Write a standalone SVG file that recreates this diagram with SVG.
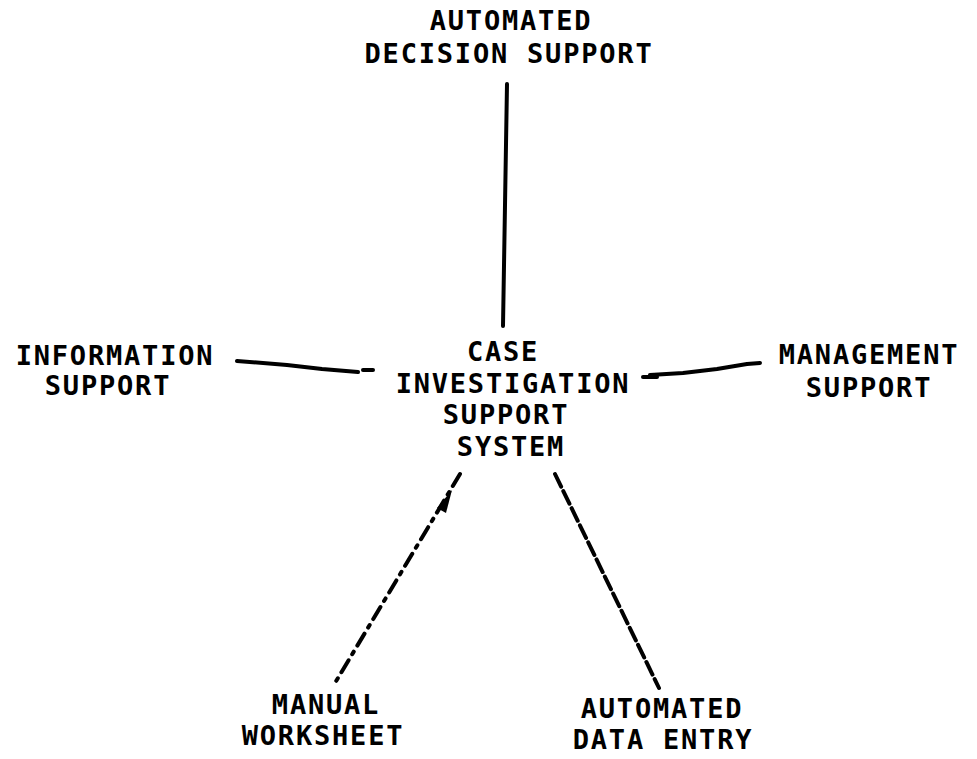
<svg xmlns="http://www.w3.org/2000/svg" width="977" height="759" viewBox="0 0 977 759">
<style>
text{font-family:"DejaVu Sans Mono","Liberation Mono",monospace;font-weight:bold;font-size:27px;letter-spacing:1.8px;fill:#000;text-anchor:middle}
.ln{fill:none;stroke:#000;stroke-width:4;stroke-linecap:round;stroke-linejoin:round}
.dd{stroke-dasharray:14 7 3 7}
.da{stroke-dasharray:14 5}
</style>
<rect width="977" height="759" fill="#fff"/>
<g id="connectors">
<path class="ln" d="M507,84 L503,326"/>
<path class="ln" d="M237,361 L287,365 L322,369 L358,372"/>
<path class="ln" d="M363,370 L373,370"/>
<path class="ln" d="M643,377 L657,377"/>
<path class="ln" d="M650,375 L683,373 L717,369 L747,364 L760,363"/>
<path class="ln dd" d="M460,474 L335,683"/>
<polygon points="452,490 446,513 437,508" fill="#000"/>
<path class="ln da" d="M555,474 L659,688"/>
</g>
<g id="decision">
<text x="511" y="30">AUTOMATED</text>
<text x="509" y="63">DECISION SUPPORT</text>
</g>
<g id="information">
<text x="115" y="365">INFORMATION</text>
<text x="108" y="395">SUPPORT</text>
</g>
<g id="case">
<text x="503" y="361">CASE</text>
<text x="513" y="393">INVESTIGATION</text>
<text x="506" y="424">SUPPORT</text>
<text x="511" y="456">SYSTEM</text>
</g>
<g id="management">
<text x="869" y="364">MANAGEMENT</text>
<text x="869" y="397">SUPPORT</text>
</g>
<g id="manual">
<text x="326" y="714">MANUAL</text>
<text x="323" y="745">WORKSHEET</text>
</g>
<g id="dataentry">
<text x="662" y="718">AUTOMATED</text>
<text x="663" y="749">DATA ENTRY</text>
</g>
</svg>
